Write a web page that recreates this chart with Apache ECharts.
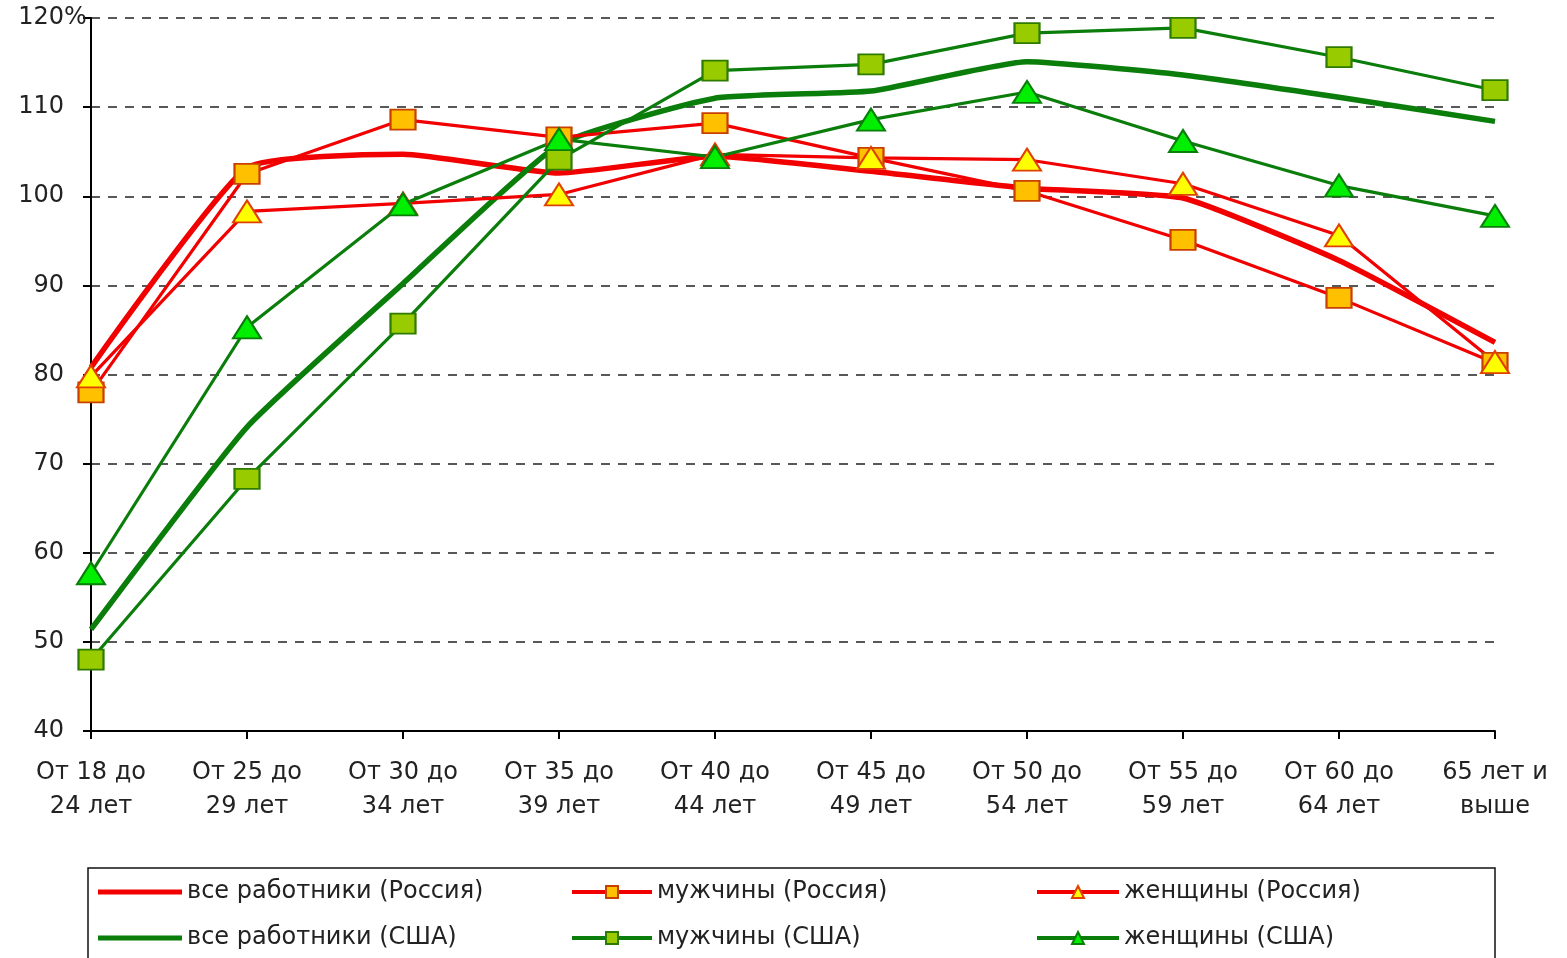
<!DOCTYPE html>
<html>
<head>
<meta charset="utf-8">
<script src="https://cdn.jsdelivr.net/npm/echarts@6/dist/echarts.min.js"></script>
<style>
html,body{margin:0;padding:0;background:#fff;}
#chart{width:1567px;height:958px;}
</style>
</head>
<body>
<div id="chart"></div>
<script>
const categories = ['От 18 до\n24 лет','От 25 до\n29 лет','От 30 до\n34 лет','От 35 до\n39 лет','От 40 до\n44 лет','От 45 до\n49 лет','От 50 до\n54 лет','От 55 до\n59 лет','От 60 до\n64 лет','65 лет и\nвыше'];
const allRussia   = [80.8, 103.2, 104.7, 102.6, 104.5, 102.8, 100.9, 99.8, 92.8, 83.6];
const menRussia   = [78.0, 102.5, 108.6, 106.6, 108.2, 104.3, 100.6, 95.1, 88.6, 81.3];
const womenRussia = [79.8, 98.3, 99.2, 100.2, 104.7, 104.3, 104.1, 101.4, 95.6, 81.4];
const allUSA      = [51.4, 74.1, 90.2, 105.8, 111.0, 111.8, 115.1, 113.6, 111.1, 108.4];
const menUSA      = [48.0, 68.3, 85.7, 104.1, 114.1, 114.8, 118.3, 118.9, 115.6, 111.9];
const womenUSA    = [57.7, 85.3, 99.1, 106.4, 104.4, 108.6, 111.7, 106.2, 101.2, 97.8];
const seriesNames = ['все работники (Россия)','мужчины (Россия)','женщины (Россия)','все работники (США)','мужчины (США)','женщины (США)'];

const FONT = 'DejaVu Sans';
const RED = '#F20000', GREEN = '#0A7D0A';

const chart = echarts.init(document.getElementById('chart'));

function thick(name, data, color){
  return {name, type:'line', data, symbol:'none', smooth:0.15,
    lineStyle:{color, width:5.5}, itemStyle:{color}, z:3};
}
function thin(name, data, color, symbol, size, fill, border){
  return {name, type:'line', data, symbol, symbolSize:size, smooth:false,
    lineStyle:{color, width:3.2},
    itemStyle:{color:fill, borderColor:border, borderWidth:2, opacity:1}, z:4};
}

const legendPos = [
  {left:98, top:880}, {left:570, top:880}, {left:1035, top:880},
  {left:98, top:926}, {left:570, top:926}, {left:1035, top:926}
];
const legendW = [84, 80, 82, 84, 80, 82];
const isThick = [true, false, false, true, false, false];
const lineCol = [RED, RED, RED, GREEN, GREEN, GREEN];

chart.setOption({
  animation:false,
  backgroundColor:'#fff',
  grid:{left:91, right:72, top:18, bottom:227, containLabel:false},
  xAxis:{
    type:'category', data:categories, boundaryGap:false,
    axisLine:{lineStyle:{color:'#000', width:2}},
    axisTick:{show:true, length:8, lineStyle:{color:'#000', width:2}},
    axisLabel:{interval:0, fontFamily:FONT, fontSize:24, color:'#222', lineHeight:34, margin:25},
    splitLine:{show:false}
  },
  yAxis:{
    type:'value', min:40, max:120, interval:10,
    axisLine:{show:true, lineStyle:{color:'#000', width:2}},
    axisTick:{show:true, length:8, inside:false, lineStyle:{color:'#000', width:2}},
    axisLabel:{fontFamily:FONT, fontSize:24, color:'#222', margin:27,
      formatter:v => v === 120 ? '{n|120}{p|%}' : String(v),
      rich:{
        n:{fontFamily:FONT, fontSize:24, color:'#222', align:'left'},
        p:{fontFamily:FONT, fontSize:24, color:'#222', width:0, align:'left'}
      }},
    splitLine:{show:true, lineStyle:{color:'#222', width:1.5, type:[9,8]}}
  },
  legend: seriesNames.map((n,i)=>({
    data: isThick[i] ? [{name:n, icon:'rect', itemStyle:{color:lineCol[i]}}] : [n],
    left:legendPos[i].left, top: isThick[i] ? legendPos[i].top : legendPos[i].top,
    padding:0, itemWidth:legendW[i], itemHeight: isThick[i] ? 5 : 15, itemGap:0, selectedMode:false,
    lineStyle:{width:4},
    textStyle:{fontFamily:FONT, fontSize:24, color:'#222'}
  })),
  graphic:[{type:'rect', shape:{x:88, y:868, width:1407, height:200},
    style:{fill:'none', stroke:'#111', lineWidth:1.5}, z:0}],
  series:[
    thick(seriesNames[0], allRussia, RED),
    thin(seriesNames[1], menRussia, RED, 'rect', [25,20], '#FFC000', '#C84000'),
    thin(seriesNames[2], womenRussia, RED, 'triangle', [28,22], '#FFFF00', '#E04000'),
    thick(seriesNames[3], allUSA, GREEN),
    thin(seriesNames[4], menUSA, GREEN, 'rect', [25,20], '#99CC00', '#2F7A00'),
    thin(seriesNames[5], womenUSA, GREEN, 'triangle', [28,22], '#00EE00', '#0A7D0A')
  ]
});
</script>
</body>
</html>
